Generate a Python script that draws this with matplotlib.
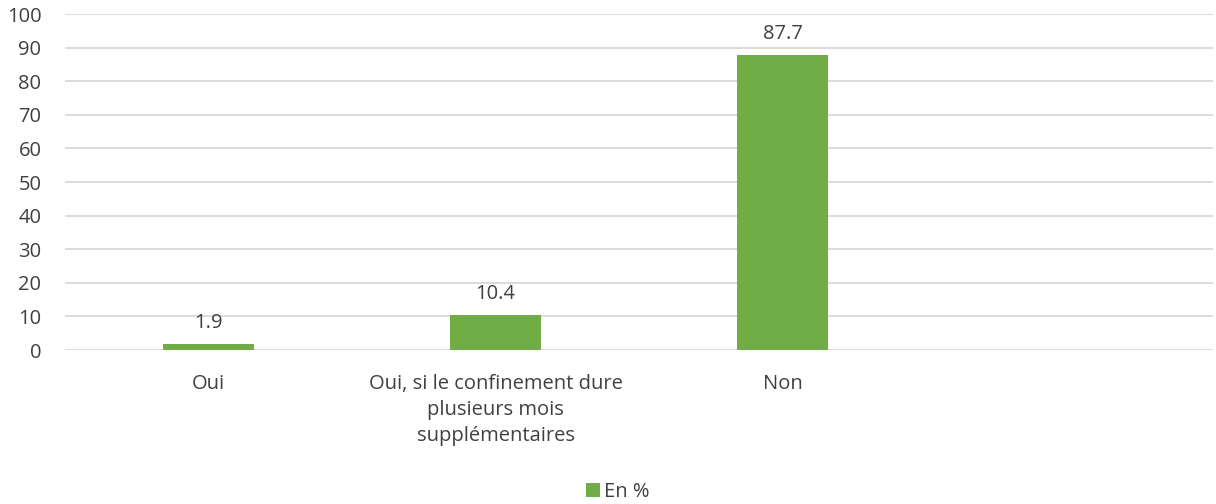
import matplotlib
matplotlib.use("Agg")
import matplotlib.pyplot as plt
import numpy as np

plt.rcParams['font.family'] = ['Open Sans', 'DejaVu Sans']

categories = ["Oui", "Oui, si le confinement dure\nplusieurs mois\nsupplémentaires", "Non", ""]
values = [1.9, 10.4, 87.7, None]
series_name = "En %"

green = "#70AD47"
text_col = "#404040"
grid_col = "#D9D9D9"
fs = 14.5

fig = plt.figure(figsize=(12.16, 5.04), dpi=100)
ax = fig.add_axes([65 / 1216, 1 - 350 / 504, (1213 - 65) / 1216, 336 / 504])

x = np.arange(len(categories))
shown = [(i, v) for i, v in enumerate(values) if v is not None]
bars = ax.bar([i for i, _ in shown], [v for _, v in shown], width=0.315, color=green, label=series_name, zorder=3)
for b, (_, v) in zip(bars, shown):
    ax.annotate(f"{v:.1f}", (b.get_x() + b.get_width() / 2, v), xytext=(0, 15),
                textcoords="offset points", ha="center", va="center",
                fontsize=fs, color=text_col)

ax.set_xlim(-0.5, len(categories) - 0.5)
ax.set_ylim(0, 100)
ax.set_yticks(range(0, 101, 10))
ax.set_xticks(x)
ax.set_xticklabels(categories, fontsize=fs, color=text_col, linespacing=1.4)
ax.tick_params(axis="y", labelsize=fs, labelcolor=text_col, length=0, pad=17)
ax.tick_params(axis="x", length=0, pad=17)
ax.grid(axis="y", color=grid_col, linewidth=1.3, zorder=0)
for s in ax.spines.values():
    s.set_visible(False)

fig.legend(loc="center", bbox_to_anchor=(618 / 1216, 1 - 492 / 504), frameon=False,
           fontsize=fs, handlelength=0.7, handleheight=0.7, handletextpad=0.2,
           labelcolor=text_col)

fig.savefig("out.png", dpi=100)
